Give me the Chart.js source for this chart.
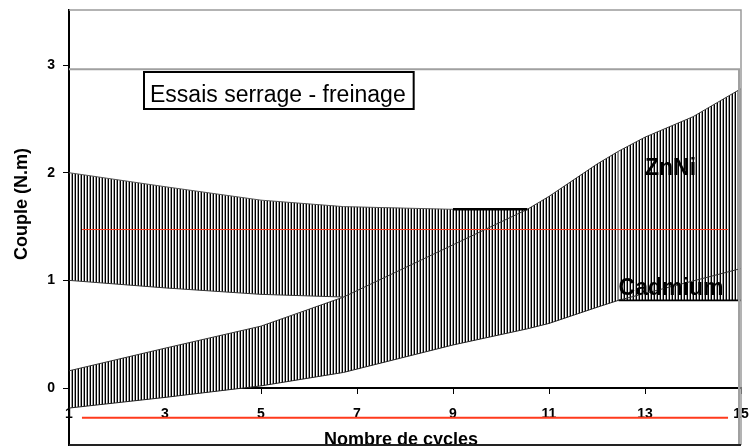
<!DOCTYPE html>
<html>
<head>
<meta charset="utf-8">
<script src="https://cdn.jsdelivr.net/npm/chart.js@4/dist/chart.umd.min.js"></script>
<style>
  html, body { margin: 0; padding: 0; background: #fff; }
  #wrap { width: 750px; height: 446px; position: relative; }
</style>
</head>
<body>
<div id="wrap"><canvas id="c" width="750" height="446"></canvas></div>
<script>
// ---- data ----
const xTicks = [1, 3, 5, 7, 9, 11, 13, 15];
const yTicks = [0, 1, 2, 3];

const znniX     = [1, 3, 5, 6.72, 9, 10.55];
const znniUpper = [2.0, 1.87, 1.745, 1.685, 1.66, 1.66];
const znniLower = [1.0, 0.93, 0.87, 0.845, 0.9, 0.95];

const cdX     = [1, 3, 5, 6.72, 9, 10.55, 11, 12, 12.45, 13, 14, 15];
const cdUpper = [0.16, 0.37, 0.575, 0.845, 1.33, 1.66, 1.78, 2.08, 2.2, 2.33, 2.52, 2.78];
const cdLower = [-0.186, -0.087, 0.02, 0.145, 0.40, 0.55, 0.60, 0.75, 0.815, 0.815, 0.815, 0.815];

const innerX = [12.45, 15];
const innerY = [0.815, 1.11];

const refX   = [1.27, 14.73];
const refMid = [1.472, 1.472];
const refLow = [-0.276, -0.276];

const seriesNames = ['ZnNi', 'Cadmium'];
const chartTitle = 'Essais serrage - freinage';
const xTitle = 'Nombre de cycles';
const yTitle = 'Couple (N.m)';

// ---- helpers ----
const zip = (xs, ys) => xs.map((x, i) => ({ x: x, y: ys[i] }));
const FONT = "'Liberation Sans', Arial, Helvetica, sans-serif";

// vertical hatch pattern
const pc = document.createElement('canvas');
pc.width = 3; pc.height = 4;
const pctx = pc.getContext('2d');
pctx.fillStyle = '#ffffff'; pctx.fillRect(0, 0, 3, 4);
pctx.fillStyle = '#000000'; pctx.fillRect(0, 0, 1, 4);
pctx.fillStyle = '#9a9a9a'; pctx.fillRect(2, 0, 1, 4);
const hatch = document.getElementById('c').getContext('2d').createPattern(pc, 'repeat');

const decor = {
  id: 'decor',
  afterDraw(chart) {
    const ctx = chart.ctx;
    const a = chart.chartArea;
    const xs = chart.scales.x, ys = chart.scales.y;
    ctx.save();

    // series labels
    ctx.fillStyle = '#000';
    ctx.font = 'bold 23px ' + FONT;
    ctx.textAlign = 'left';
    ctx.textBaseline = 'alphabetic';
    ctx.fillText(seriesNames[0], xs.getPixelForValue(13.0), ys.getPixelForValue(1.978));
    ctx.fillText(seriesNames[1], xs.getPixelForValue(12.45), ys.getPixelForValue(0.864));

    // inner plot frame (gray)
    const innerTop = ys.getPixelForValue(2.96);
    ctx.strokeStyle = '#a0a0a0';
    ctx.lineWidth = 2;
    ctx.beginPath();
    ctx.moveTo(a.left, innerTop);
    ctx.lineTo(a.right - 2, innerTop);
    ctx.lineTo(a.right - 2, a.bottom);
    ctx.stroke();

    // outer frame top/right
    ctx.strokeStyle = '#9a9a9a';
    ctx.lineWidth = 1.5;
    ctx.beginPath();
    ctx.moveTo(a.left, a.top);
    ctx.lineTo(a.right, a.top);
    ctx.lineTo(a.right, a.bottom);
    ctx.stroke();

    // title box
    ctx.font = '23px ' + FONT;
    const tw = ctx.measureText(chartTitle).width;
    const bx = 144, by = 72, bh = 37;
    ctx.fillStyle = '#fff';
    ctx.fillRect(bx, by, tw + 14, bh);
    ctx.strokeStyle = '#000';
    ctx.lineWidth = 2;
    ctx.strokeRect(bx, by, tw + 14, bh);
    ctx.fillStyle = '#000';
    ctx.textAlign = 'left';
    ctx.fillText(chartTitle, bx + 6, by + 30);

    // axis titles
    ctx.font = 'bold 18px ' + FONT;
    ctx.textAlign = 'center';
    ctx.fillText(xTitle, 401, 445);
    ctx.save();
    ctx.translate(27, 204);
    ctx.rotate(-Math.PI / 2);
    ctx.fillText(yTitle, 0, 0);
    ctx.restore();

    // bottom frame line
    ctx.strokeStyle = '#222';
    ctx.lineWidth = 2;
    ctx.beginPath();
    ctx.moveTo(a.left, a.bottom);
    ctx.lineTo(a.right, a.bottom);
    ctx.stroke();
    ctx.restore();
  }
};

new Chart(document.getElementById('c'), {
  type: 'line',
  data: {
    datasets: [
      { label: 'refMid', data: zip(refX, refMid), borderColor: '#ff3a1c', borderWidth: 1, pointRadius: 0, fill: false, order: 0 },
      { label: 'refLow', data: zip(refX, refLow), borderColor: '#ff3a1c', borderWidth: 2, pointRadius: 0, fill: false, order: 0 },
      { label: 'ZnNi min', data: zip(znniX, znniLower), borderColor: '#333', borderWidth: 1, pointRadius: 0, fill: false, order: 1,
        segment: { borderColor: c => c.p0DataIndex >= 3 ? 'rgba(0,0,0,0)' : '#333' } },
      { label: 'ZnNi max', data: zip(znniX, znniUpper), borderColor: '#555', borderWidth: 1, pointRadius: 0,
        fill: { target: 2 }, backgroundColor: hatch, order: 1,
        segment: { borderColor: c => c.p0DataIndex >= 4 ? '#000' : '#555', borderWidth: c => c.p0DataIndex >= 4 ? 2.5 : 1 } },
      { label: 'Cadmium min', data: zip(cdX, cdLower), borderColor: '#222', borderWidth: 1, pointRadius: 0, fill: false, order: 1,
        segment: { borderWidth: c => c.p0DataIndex >= 8 ? 1.8 : 1, borderColor: c => c.p0DataIndex >= 8 ? '#000' : '#222' } },
      { label: 'Cadmium max', data: zip(cdX, cdUpper), borderColor: '#333', borderWidth: 1, pointRadius: 0,
        fill: { target: 4 }, backgroundColor: hatch, order: 1 },
      { label: 'inner', data: zip(innerX, innerY), borderColor: '#333', borderWidth: 1, pointRadius: 0, fill: false, order: 1 }
    ]
  },
  options: {
    responsive: false,
    animation: false,
    events: [],
    layout: { padding: { top: 10, right: 9, bottom: 1, left: 0 } },
    plugins: {
      legend: { display: false },
      tooltip: { enabled: false },
      title: { display: false },
      filler: { drawTime: 'beforeDatasetsDraw' }
    },
    scales: {
      x: {
        type: 'linear',
        min: 1, max: 15,
        position: { y: 0 },
        afterBuildTicks: s => { s.ticks = xTicks.map(v => ({ value: v })); },
        afterFit: s => { s.paddingLeft = 0; s.paddingRight = 0; },
        ticks: { autoSkip: false, maxRotation: 0, color: '#000', padding: 13,
                 font: { family: FONT, size: 14, weight: 'bold' } },
        grid: { display: true, drawOnChartArea: false, drawTicks: true, tickLength: 5, color: '#000', lineWidth: 1 },
        border: { display: true, color: '#000', width: 2 }
      },
      y: {
        type: 'linear',
        min: -0.529, max: 3.511,
        position: 'left',
        afterBuildTicks: s => { s.ticks = yTicks.map(v => ({ value: v })); },
        afterFit: s => { s.width = 69; s.paddingTop = 0; s.paddingBottom = 0; },
        ticks: { color: '#000', padding: 8, font: { family: FONT, size: 14, weight: 'bold' } },
        grid: { display: true, drawOnChartArea: false, drawTicks: true, tickLength: 6, color: '#000', lineWidth: 1 },
        border: { display: true, color: '#000', width: 2 }
      }
    }
  },
  plugins: [decor]
});
</script>
</body>
</html>
